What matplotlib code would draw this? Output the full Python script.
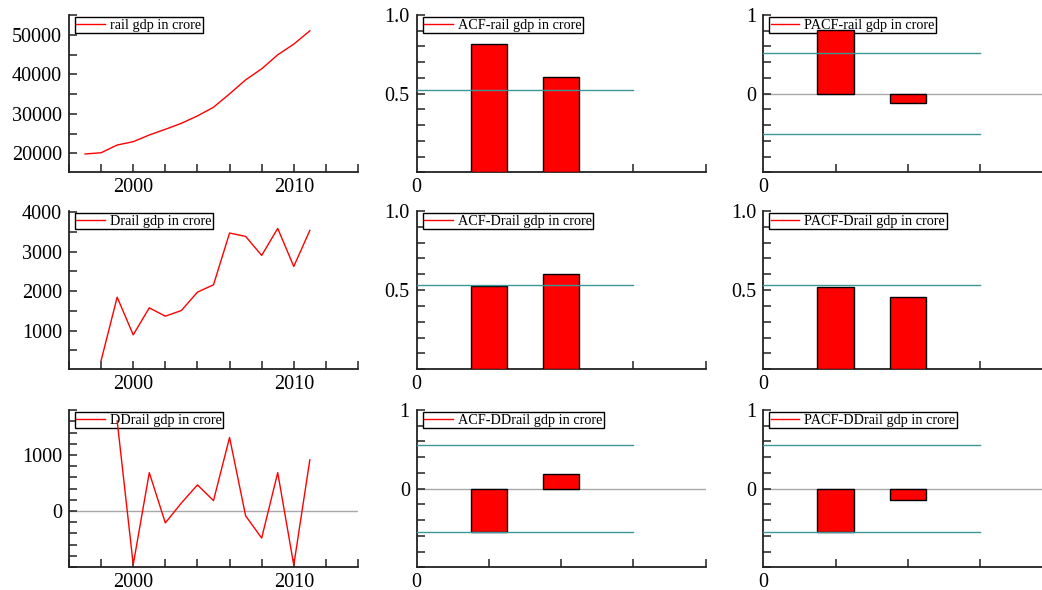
import numpy as np
import matplotlib.pyplot as plt
from matplotlib.lines import Line2D
from matplotlib.ticker import FixedLocator, MultipleLocator, NullFormatter

plt.rcParams['font.family'] = ['Liberation Serif', 'DejaVu Serif']

# series
years = [1997, 1998, 1999, 2000, 2001, 2002, 2003, 2004, 2005, 2006, 2007, 2008, 2009, 2010, 2011]
rail = [19830, 20150, 22100, 22950, 24640, 26080, 27600, 29460, 31660, 35040, 38590, 41380, 44930, 47630, 51000]
drail_years = years[1:]
drail = [237, 1847, 890, 1576, 1364, 1508, 1975, 2161, 3475, 3390, 2907, 3593, 2627, 3542]
ddrail_years = years[2:]
ddrail = [1610, -957, 686, -212, 144, 467, 186, 1314, -85, -483, 686, -966, 915]

lags = [1, 2]
acf_rail = [0.813, 0.609]
pacf_rail = [0.807, -0.12]
acf_drail = [0.525, 0.601]
pacf_drail = [0.523, 0.454]
acf_ddrail = [-0.553, 0.191]
pacf_ddrail = [-0.553, -0.14]
band_rail_acf = 0.524
band_rail_pacf = 0.517
band_drail = 0.534
band_ddrail = 0.555

RED = '#ff0000'
TEAL = '#3a9898'
GRAY = '#a8a8a8'

fig = plt.figure(figsize=(10.42, 5.90), dpi=100)

W = 1042.0
H = 590.0
cols = [69, 416.7, 763.3]
colw = 289
rows = [(15, 172.3), (211, 369.3), (410, 567.3)]


def make_ax(r, c):
    top, bot = rows[r]
    return fig.add_axes([cols[c] / W, 1 - bot / H, colw / W, (bot - top) / H])


def style(ax):
    for s in ['top', 'right']:
        ax.spines[s].set_visible(False)
    for s in ['left', 'bottom']:
        ax.spines[s].set_color('#222222')
        ax.spines[s].set_linewidth(1.3)
    ax.tick_params(which='both', direction='in', colors='#222222', labelsize=14.5,
                   width=1.1, labelcolor='black', length=6)
    ax.tick_params(axis='y', pad=5)
    ax.tick_params(axis='x', pad=4)


def add_legend(ax, label):
    # legend sits under the data, like in the reference
    h = Line2D([], [], color=RED, lw=1)
    leg = ax.legend([h], [label], loc='upper left', bbox_to_anchor=(0.021, 0.985),
                    borderaxespad=0, fontsize=10.3, handlelength=2.0, handletextpad=0.35,
                    borderpad=0.1, fancybox=False, framealpha=1, edgecolor='black')
    leg.get_frame().set_linewidth(1.0)
    leg.set_zorder(1.5)


def time_panel(ax, x, y, label, ylim, yticks, yminor, zero=False):
    style(ax)
    if zero:
        ax.axhline(0, color=GRAY, lw=1, zorder=1)
    ax.plot(x, y, color=RED, lw=1, zorder=3)
    ax.set_xlim(1996, 2014)
    ax.set_ylim(*ylim)
    ax.xaxis.set_major_locator(FixedLocator([2000, 2010]))
    ax.xaxis.set_minor_locator(MultipleLocator(2))
    ax.xaxis.set_minor_formatter(NullFormatter())
    ax.yaxis.set_major_locator(FixedLocator(yticks))
    ax.yaxis.set_minor_locator(MultipleLocator(yminor))
    ax.yaxis.set_minor_formatter(NullFormatter())
    add_legend(ax, label)


def corr_panel(ax, vals, band, label, ylim, yticks, yticklabels, yminor):
    style(ax)
    if ylim[0] < 0:
        ax.axhline(0, color=GRAY, lw=1, zorder=1)
    ax.bar(lags, vals, width=0.5, color=RED, edgecolor='black', lw=1, zorder=3)
    ax.plot([0, 3], [band, band], color=TEAL, lw=1, zorder=4)
    if ylim[0] < 0:
        ax.plot([0, 3], [-band, -band], color=TEAL, lw=1, zorder=4)
    ax.set_xlim(0, 4)
    ax.set_ylim(*ylim)
    ax.xaxis.set_major_locator(FixedLocator([0]))
    ax.xaxis.set_minor_locator(FixedLocator([1, 2, 3, 4]))
    ax.xaxis.set_minor_formatter(NullFormatter())
    ax.yaxis.set_major_locator(FixedLocator(yticks))
    ax.set_yticklabels(yticklabels)
    ax.yaxis.set_minor_locator(MultipleLocator(yminor))
    ax.yaxis.set_minor_formatter(NullFormatter())
    ax.tick_params(axis='x', which='major', length=0)
    add_legend(ax, label)


pos = ([0.5, 1.0], ['0.5', '1.0'], 0.1)
sym = ([0, 1], ['0', '1'], 0.2)

ax = make_ax(0, 0)
time_panel(ax, years, rail, 'rail gdp in crore', (15200, 55000),
           [20000, 30000, 40000, 50000], 5000)
ax = make_ax(0, 1)
corr_panel(ax, acf_rail, band_rail_acf, 'ACF-rail gdp in crore', (0, 1), *pos)
ax = make_ax(0, 2)
corr_panel(ax, pacf_rail, band_rail_pacf, 'PACF-rail gdp in crore', (-1, 1), *sym)

ax = make_ax(1, 0)
time_panel(ax, drail_years, drail, 'Drail gdp in crore', (15, 4035),
           [1000, 2000, 3000, 4000], 500)
ax = make_ax(1, 1)
corr_panel(ax, acf_drail, band_drail, 'ACF-Drail gdp in crore', (0, 1), *pos)
ax = make_ax(1, 2)
corr_panel(ax, pacf_drail, band_drail, 'PACF-Drail gdp in crore', (0, 1), *pos)

ax = make_ax(2, 0)
time_panel(ax, ddrail_years, ddrail, 'DDrail gdp in crore', (-1005, 1805),
           [0, 1000], 200, zero=True)
ax = make_ax(2, 1)
corr_panel(ax, acf_ddrail, band_ddrail, 'ACF-DDrail gdp in crore', (-1, 1), *sym)
ax = make_ax(2, 2)
corr_panel(ax, pacf_ddrail, band_ddrail, 'PACF-DDrail gdp in crore', (-1, 1), *sym)

fig.savefig('out.png', dpi=100)
